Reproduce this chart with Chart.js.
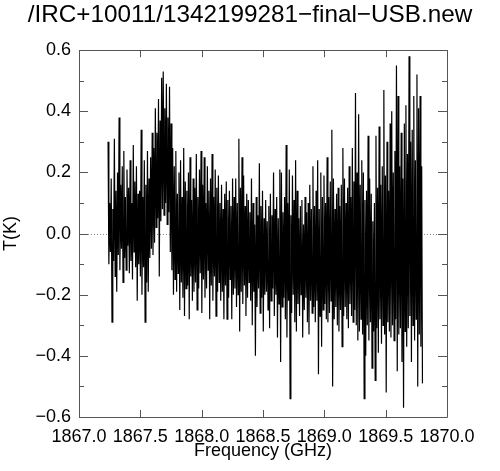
<!DOCTYPE html>
<html>
<head>
<meta charset="utf-8">
<script src="https://cdn.jsdelivr.net/npm/chart.js@4.4.1/dist/chart.umd.min.js"></script>
<style>
    html, body { margin: 0; padding: 0; background: #fff; }
    canvas { display: block; }
</style>
</head>
<body>
<canvas id="spec" width="500" height="471"></canvas>
<script>
const titleText = "/IRC+10011/1342199281\u2212final\u2212USB.new";

// channel grid: first channel and spacing (GHz)
const freqStart = 1867.237;
const freqStep = 0.012847;

// per channel pair: highest and lowest excursion (K)
const upper = [
    0.30, 0.10, 0.18, 0.08, 0.31, 0.14, 0.20, 0.38, 0.16, 0.22,
    0.27, 0.12, 0.21, 0.15, 0.24, 0.10, 0.29, 0.17, 0.22, 0.13,
    0.14, 0.34, 0.12, 0.24, 0.16, 0.27, 0.18, 0.25, 0.33, 0.28,
    0.41, 0.33, 0.44, 0.37, 0.51, 0.53, 0.41, 0.49, 0.38, 0.48,
    0.36, 0.28, 0.22, 0.27, 0.13, 0.20, 0.24, 0.12, 0.28, 0.17,
    0.14, 0.20, 0.25, 0.11, 0.18, 0.15, 0.26, 0.12, 0.21, 0.27,
    0.16, 0.25, 0.10, 0.22, 0.14, 0.18, 0.26, 0.12, 0.21, 0.15,
    0.19, 0.10, 0.16, 0.08, 0.13, 0.17, 0.11, 0.14, 0.09, 0.18,
    0.12, 0.18, 0.10, 0.31, 0.15, 0.25, 0.19, 0.09, 0.13, 0.11,
    0.07, 0.18, 0.10, 0.03, 0.12, 0.06, 0.23, 0.09, 0.14, 0.05,
    0.11, 0.04, 0.09, 0.13, 0.06, 0.20, 0.08, 0.12, 0.05, 0.21,
    0.20, 0.07, 0.12, 0.29, 0.10, 0.21, 0.06, 0.19, 0.11, 0.24,
    0.14, 0.05, 0.09, 0.11, 0.03, 0.12, 0.07, 0.10, 0.16, 0.08,
    0.22, 0.09, 0.14, 0.24, 0.08, 0.20, 0.12, 0.19, 0.10, 0.25,
    0.12, 0.17, 0.34, 0.18, 0.08, 0.13, 0.15, 0.09, 0.16, 0.28,
    0.18, 0.10, 0.15, 0.22, 0.12, 0.28, 0.17, 0.46, 0.20, 0.39,
    0.16, 0.24, 0.20, 0.11, 0.14, 0.32, 0.18, 0.13, 0.04, 0.10,
    0.32, 0.15, 0.35, 0.16, 0.22, 0.47, 0.19, 0.30, 0.14, 0.36,
    0.40, 0.20, 0.27, 0.55, 0.45, 0.22, 0.33, 0.18, 0.36, 0.42,
    0.26, 0.58, 0.30, 0.34, 0.45, 0.24, 0.52, 0.41, 0.45, 0.22
];

const lower = [
    -0.10, -0.06, -0.29, -0.09, -0.14, -0.19, -0.07, -0.12, -0.05, -0.16,
    -0.08, -0.12, -0.04, -0.13, -0.09, -0.15, -0.06, -0.11, -0.22, -0.10,
    -0.14, -0.20, -0.11, -0.29, -0.16, -0.19, -0.08, -0.05, -0.07, -0.03,
    0.02, 0.05, -0.14, 0.04, 0.08, 0.06, 0.10, 0.03, 0.07, -0.06,
    -0.12, -0.20, -0.15, -0.19, -0.13, -0.25, -0.16, -0.21, -0.27, -0.18,
    -0.17, -0.28, -0.14, -0.22, -0.19, -0.16, -0.25, -0.18, -0.13, -0.26,
    -0.15, -0.21, -0.18, -0.12, -0.28, -0.17, -0.22, -0.14, -0.27, -0.19,
    -0.16, -0.22, -0.19, -0.28, -0.17, -0.28, -0.21, -0.15, -0.28, -0.20,
    -0.18, -0.24, -0.20, -0.32, -0.19, -0.23, -0.17, -0.27, -0.21, -0.16,
    -0.22, -0.30, -0.19, -0.40, -0.24, -0.18, -0.26, -0.21, -0.32, -0.20,
    -0.19, -0.25, -0.31, -0.22, -0.18, -0.27, -0.20, -0.34, -0.23, -0.42,
    -0.24, -0.21, -0.28, -0.34, -0.22, -0.54, -0.26, -0.20, -0.29, -0.32,
    -0.23, -0.27, -0.20, -0.34, -0.25, -0.21, -0.29, -0.33, -0.22, -0.26,
    -0.24, -0.29, -0.22, -0.46, -0.27, -0.37, -0.25, -0.23, -0.28, -0.29,
    -0.26, -0.22, -0.50, -0.28, -0.24, -0.30, -0.32, -0.25, -0.37, -0.27,
    -0.24, -0.28, -0.31, -0.23, -0.27, -0.29, -0.25, -0.30, -0.35, -0.32,
    -0.28, -0.33, -0.54, -0.40, -0.30, -0.35, -0.29, -0.44, -0.32, -0.48,
    -0.31, -0.39, -0.28, -0.36, -0.30, -0.33, -0.52, -0.29, -0.32, -0.34,
    -0.30, -0.35, -0.28, -0.45, -0.33, -0.31, -0.42, -0.57, -0.32, -0.37,
    -0.31, -0.27, -0.42, -0.30, -0.35, -0.28, -0.50, -0.33, -0.37, -0.49
];

const xTicks = [1867.0, 1867.5, 1868.0, 1868.5, 1869.0, 1869.5, 1870.0];
const yTicks = [-0.6, -0.5, -0.4, -0.3, -0.2, -0.1, 0.0, 0.1, 0.2, 0.3, 0.4, 0.5, 0.6];

const fontFamily = "'Liberation Sans', Arial, sans-serif";

// hi / lo pairs -> one zigzag line, like the densely sampled spectrum
let points = [];
upper.forEach(function (v, i) {
    points.push({ x: freqStart + i * freqStep, y: v });
    points.push({ x: freqStart + (i + 0.5) * freqStep, y: lower[i] });
});

function fmt(v) {
    return v.toFixed(1).replace("-", "\u2212");
}

/*
    box round the plot with inward ticks, and the dotted zero line
*/
const framePlugin = {
    id: "frame",
    beforeDatasetsDraw(chart) {
        const ctx = chart.ctx;
        const a = chart.chartArea;
        const y0 = Math.round(chart.scales.y.getPixelForValue(0)) + 0.5;
        ctx.save();
        ctx.strokeStyle = "#888";
        ctx.lineWidth = 1;
        ctx.setLineDash([1, 2]);
        ctx.beginPath();
        ctx.moveTo(a.left, y0);
        ctx.lineTo(a.right, y0);
        ctx.stroke();
        ctx.restore();
    },
    afterDraw(chart) {
        const ctx = chart.ctx;
        const a = chart.chartArea;
        const sx = chart.scales.x;
        const sy = chart.scales.y;
        ctx.save();
        ctx.strokeStyle = "#555";
        ctx.lineWidth = 1;
        ctx.beginPath();
        ctx.rect(Math.round(a.left) + 0.5, Math.round(a.top) + 0.5,
            Math.round(a.right - a.left), Math.round(a.bottom - a.top));

        xTicks.forEach(function (t) {
            const px = Math.round(sx.getPixelForValue(t)) + 0.5;
            ctx.moveTo(px, a.bottom);
            ctx.lineTo(px, a.bottom - 7);
            ctx.moveTo(px, a.top);
            ctx.lineTo(px, a.top + 7);
        });

        yTicks.forEach(function (t) {
            const py = Math.round(sy.getPixelForValue(t)) + 0.5;
            const len = Math.round(t * 10) % 2 === 0 ? 9 : 5;
            ctx.moveTo(a.left, py);
            ctx.lineTo(a.left + len, py);
            ctx.moveTo(a.right, py);
            ctx.lineTo(a.right - len, py);
        });
        ctx.stroke();
        ctx.restore();
    }
};

const config = {
    type: "line",
    data: {
        datasets: [{
            data: points,
            borderColor: "#000",
            borderWidth: 1.2,
            pointRadius: 0,
            fill: false,
            tension: 0
        }]
    },
    options: {
        responsive: false,
        animation: false,
        devicePixelRatio: 1,
        parsing: false,
        layout: { padding: 0 },
        plugins: {
            legend: { display: false },
            tooltip: { enabled: false },
            title: {
                display: true,
                text: titleText,
                color: "#000",
                font: { family: fontFamily, size: 24.3, weight: "normal" },
                padding: { top: 1, bottom: 20 }
            }
        },
        scales: {
            x: {
                type: "linear",
                min: 1867,
                max: 1870,
                afterFit(s) { s.height = 54; },
                afterBuildTicks(s) { s.ticks = xTicks.map(v => ({ value: v })); },
                grid: { display: false, drawTicks: false },
                border: { display: false },
                ticks: {
                    color: "#000",
                    font: { family: fontFamily, size: 18 },
                    padding: 9,
                    maxRotation: 0,
                    autoSkip: false,
                    callback: v => v.toFixed(1)
                },
                title: {
                    display: true,
                    text: "Frequency (GHz)",
                    color: "#000",
                    font: { family: fontFamily, size: 18 },
                    padding: { top: 0, bottom: 9 }
                }
            },
            y: {
                min: -0.6,
                max: 0.6,
                afterFit(s) { s.width = 79; },
                afterBuildTicks(s) { s.ticks = yTicks.map(v => ({ value: v })); },
                grid: { display: false, drawTicks: false },
                border: { display: false },
                ticks: {
                    color: "#000",
                    font: { family: fontFamily, size: 18 },
                    padding: 8,
                    autoSkip: false,
                    callback: v => (Math.round(v * 10) % 2 === 0 ? fmt(v) : "")
                },
                title: {
                    display: true,
                    text: "T(K)",
                    color: "#000",
                    font: { family: fontFamily, size: 18 },
                    padding: { top: 0, bottom: 0 }
                }
            },
            // empty right-hand axis, only keeps the white margin
            yRight: {
                position: "right",
                min: -0.6,
                max: 0.6,
                afterFit(s) { s.width = 53; },
                grid: { display: false, drawTicks: false },
                border: { display: false },
                ticks: { display: false }
            }
        }
    },
    plugins: [framePlugin]
};

// eslint-disable-next-line no-undef
const myChart = new Chart(document.getElementById("spec"), config);
</script>
</body>
</html>
